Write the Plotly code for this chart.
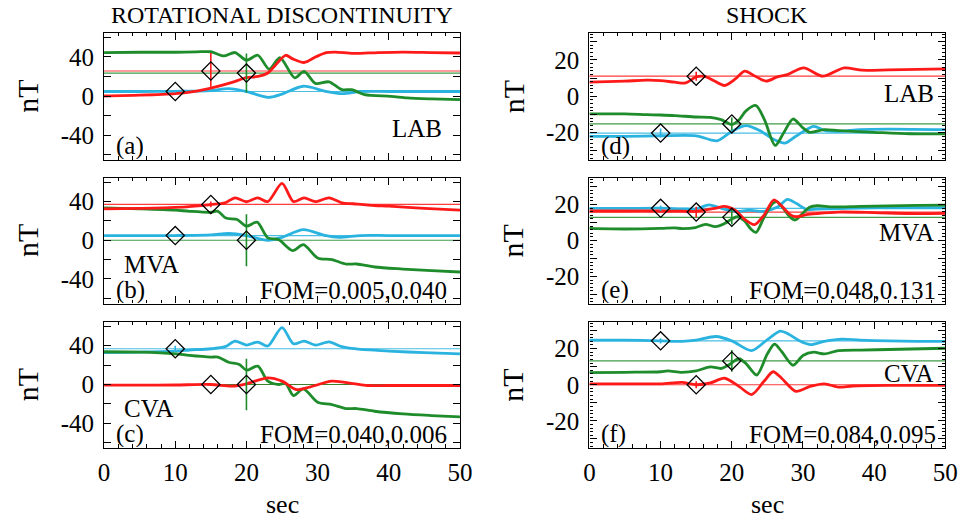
import plotly.graph_objects as go

# ---------------- data: (time [s], field [nT]) knots per component ----------------
RED = "#ff1a1a"
GRN = "#1e8c2a"
BLU = "#2bb3e0"

# (a) rotational discontinuity, LAB frame
A_RED_T = [0, 5, 10, 13, 15, 18, 20, 21.6, 23, 24, 25.5, 26.5, 28.1, 29.7, 31.2, 32.5, 35, 38.5, 42, 46, 50]
A_RED_V = [0, 0.8, 2.4, 5, 8.1, 14, 18.7, 20, 23.5, 31, 41.7, 38, 34.3, 39.9, 44.4, 45, 43.6, 44.5, 45, 44.5, 44]
A_GRN_T = [0, 5, 10, 13, 15, 16.8, 18.4, 20, 21.6, 23.2, 24.7, 26.8, 28.1, 29.7, 31.6, 33.4, 34.8, 36.6, 40.3, 42.6, 46, 50]
A_GRN_V = [44.5, 44.8, 44.8, 45.2, 45.3, 41.0, 44.5, 36.6, 41.7, 27.5, 39.3, 18.5, 25.3, 12.8, 14.5, 6.5, 6.5, 1.4, -0.3, -2.0, -3.0, -3.7]
A_BLU_T = [0, 5, 10, 15, 17.5, 20, 23, 25, 28, 31, 33.5, 36, 40, 45, 50]
A_BLU_V = [4.6, 4.6, 4.8, 5.5, 7.5, 4.6, -1.4, 2, 10, 5, 2.4, 4.6, 4.6, 4.6, 4.6]

# (b) rotational discontinuity, MVA frame
B_RED_T = [0, 5, 10, 15, 17, 18.4, 20, 21.6, 23, 25, 26.6, 28.1, 29.7, 31.6, 33.4, 35, 38, 40, 45, 50]
B_RED_V = [32.6, 33, 34, 37, 38.8, 44, 39.9, 44, 40, 58.9, 40, 44, 40, 44, 38.8, 37.8, 36, 35.4, 33, 31.2]
B_GRN_T = [0, 5, 10, 12, 15, 16, 17.1, 18.7, 20, 21.5, 23, 24.5, 26.5, 28, 30, 32, 34, 35.5, 38, 42, 46, 50]
B_GRN_V = [33.6, 32.6, 31.2, 30, 29, 30, 23, 21.5, 14.6, 18.7, 2.5, 0.7, -10.7, -4.5, -18.3, -20, -24.6, -24.6, -27.7, -29.8, -31.5, -32.9]
B_BLU_T = [0, 5, 10, 15, 17.5, 20, 23, 25, 28, 31, 33, 36, 40, 50]
B_BLU_V = [4.9, 4.9, 4.9, 5.5, 7, 4.9, 0, 3, 11, 5, 3, 4.9, 4.9, 4.9]

# (c) rotational discontinuity, CVA frame
C_RED_T = [0, 5, 10, 15, 18, 20, 23, 25, 27, 29, 32, 35, 37, 40, 50]
C_RED_V = [-0.7, -0.7, -0.5, 0, -1.7, 0.7, 6.9, 3.5, -5.2, -2.4, 3.4, 1, -1, -1, -1]
C_GRN_T = [0, 5, 10, 12, 15, 16, 17.5, 19, 20, 21.6, 23, 24.5, 25.5, 26.6, 28, 30, 32, 34, 35.5, 38, 42, 46, 50]
C_GRN_V = [33.8, 33.4, 31.7, 30, 28.3, 28.3, 23, 20.7, 14.8, 19, 3.4, 0, 1, -11.4, -4.5, -18.3, -20.7, -24.8, -24.8, -27.6, -30.3, -32, -33.4]
C_BLU_T = [0, 5, 10, 12, 15, 17, 18.4, 20, 21.6, 23, 25, 26.6, 28.1, 29.7, 31.6, 33.4, 36, 38, 40, 45, 50]
C_BLU_V = [32.8, 33.5, 34.5, 35.5, 36.9, 39, 44.8, 40.7, 43.8, 39.7, 58.6, 42, 44.8, 40.7, 44, 39, 36.2, 35.5, 34.5, 32.8, 31.7]

# (d) shock, LAB frame
D_RED_T = [0, 5, 8, 10, 12, 13.5, 15, 16.3, 17.5, 19, 20.5, 21.8, 23.3, 24.8, 26.4, 27.8, 30.1, 32.8, 35.8, 38.3, 42, 46, 50]
D_RED_V = [7.7, 8.3, 8.8, 8.6, 7.7, 7.3, 10.6, 10.8, 8.5, 5.9, 9.5, 13.8, 11, 8.3, 10.6, 11.9, 15.6, 11, 15.6, 14.3, 14.5, 14.7, 15]
D_GRN_T = [0, 5, 8, 10, 12, 15, 17, 18.5, 20, 21, 22, 23.4, 24.6, 26.1, 27.3, 28.6, 30, 31, 33, 35, 40, 45, 50]
D_GRN_V = [-9.7, -9.7, -10.1, -10.3, -10.6, -11.4, -11.6, -12.8, -15.5, -13, -8, -5.1, -13, -27, -20, -12.5, -17.4, -19.8, -18.3, -18.9, -19.8, -20.6, -20.7]
D_BLU_T = [0, 5, 10, 15, 17, 18, 20, 22, 24, 25.8, 27.5, 29, 31.5, 33, 35, 38, 42, 50]
D_BLU_V = [-22, -22, -21.7, -21.7, -23.9, -24.4, -19.3, -16.1, -19, -23.5, -25.7, -22, -16.5, -18.7, -19.3, -18.3, -18, -18.3]

# (e) shock, MVA frame
E_RED_T = [0, 5, 10, 13, 15, 17.8, 19, 20.7, 21.8, 23.2, 24.5, 25.9, 26.8, 28.2, 29.1, 30.5, 32, 35, 40, 45, 50]
E_RED_V = [16.4, 16.4, 16.4, 16.3, 16.2, 18, 18.9, 16.2, 11.7, 8.8, 14, 22.5, 20, 14.4, 13.2, 14.4, 15, 15.8, 15.5, 15, 15.1]
E_GRN_T = [0, 5, 10, 12, 13.1, 14.9, 16.3, 17.7, 19, 19.9, 20.8, 21.8, 22.7, 23.4, 24.5, 25.7, 26.3, 27.2, 28.2, 28.9, 30, 31, 32, 34.2, 38, 42, 46, 50]
E_GRN_V = [6.7, 6.4, 6.7, 7.0, 6.6, 7.2, 9.0, 7.7, 9.5, 11.7, 13.2, 10.8, 6.3, 4.5, 12.6, 20.4, 21.6, 18, 13, 11.4, 15.3, 18.6, 19.3, 18.7, 19, 19.2, 19.5, 19.6]
E_BLU_T = [0, 5, 10, 13, 15, 16.8, 19, 20.7, 22.5, 24.5, 26.5, 27.8, 29.1, 30.5, 32, 34.2, 38, 42, 50]
E_BLU_V = [17.8, 17.8, 18.0, 17.6, 17.5, 19.8, 17.3, 16.2, 16.8, 16.2, 18.7, 22.8, 20.5, 17.3, 17.5, 17.6, 18.0, 18.2, 18.2]

# (f) shock, CVA frame
F_RED_T = [0, 5, 10, 13, 15, 17, 19, 21, 22.8, 24.5, 25.8, 27, 29, 31, 33, 35, 37, 42, 50]
F_RED_V = [0.5, 0.5, 0.5, 1.3, 0, 1, 3.6, -0.9, -5.4, 1.8, 7.2, 3.6, -3.6, -0.9, 0.5, -1.3, -0.7, -0.4, -0.4]
F_GRN_T = [0, 5, 10, 11, 13, 15, 17, 18.5, 19.5, 21, 22, 23.5, 25, 26, 27, 28.6, 30, 31.5, 33, 35, 38, 42, 50]
F_GRN_V = [6.7, 6.9, 7.2, 7.7, 6.9, 7.7, 9.9, 9.0, 10.8, 14.4, 11.7, 5.4, 17.1, 22.5, 18.4, 10.8, 16.2, 18, 17.1, 18.9, 19.2, 19.5, 20.2]
F_BLU_T = [0, 5, 10, 13, 15, 17.8, 20, 22.8, 25, 26.8, 28, 29.5, 31, 33, 35.5, 38, 42, 46, 50]
F_BLU_V = [24.7, 24.7, 24.3, 24.0, 24.7, 26.7, 24.3, 18.9, 25, 29.7, 28, 24.3, 22.2, 24, 25.2, 24.7, 24.3, 24, 24]

# mean levels (horizontal lines) and uncertainty markers: [red, green, blue]
MARK_T = [15, 20, 10]
A_MEAN = [25.6, 23.5, 4.6];   A_ERR = [18.5, 20.0, 1.0]
B_MEAN = [37.1, 0.0, 4.9];    B_ERR = [3.0, 27.0, 1.0]
C_MEAN = [0.0, 0.0, 36.9];    C_ERR = [1.0, 26.5, 3.0]
D_MEAN = [11.0, -15.2, -20.2]; D_ERR = [2.5, 3.5, 2.5]
E_MEAN = [15.8, 12.9, 17.9];  E_ERR = [3.0, 4.0, 1.5]
F_MEAN = [0.0, 13.2, 24.3];   F_ERR = [2.0, 6.0, 1.5]

FRAME = ["LAB", "MVA", "CVA", "LAB", "MVA", "CVA"]
TAG = ["(a)", "(b)", "(c)", "(d)", "(e)", "(f)"]
FOM = [None, "FOM=0.005,0.040", "FOM=0.040,0.006", None, "FOM=0.048,0.131", "FOM=0.084,0.095"]
COL_TITLES = ["ROTATIONAL DISCONTINUITY", "SHOCK"]

X_RANGE = [0, 50]
Y_RANGE_RD = [-65.5, 65]
Y_RANGE_SH = [-35, 35]

# ---------------- layout geometry (pixels) ----------------
W, H = 976, 522
COL_X = [(100, 463), (595, 958)]
ROW_Y = [(32.5, 160), (177.5, 303.5), (321.5, 448)]
FONT = "Liberation Serif"


def fx(px):
    return px / W


def fy(py):
    return 1 - py / H


panels = [
    (A_RED_T, A_RED_V, A_GRN_T, A_GRN_V, A_BLU_T, A_BLU_V, A_MEAN, A_ERR),
    (B_RED_T, B_RED_V, B_GRN_T, B_GRN_V, B_BLU_T, B_BLU_V, B_MEAN, B_ERR),
    (C_RED_T, C_RED_V, C_GRN_T, C_GRN_V, C_BLU_T, C_BLU_V, C_MEAN, C_ERR),
    (D_RED_T, D_RED_V, D_GRN_T, D_GRN_V, D_BLU_T, D_BLU_V, D_MEAN, D_ERR),
    (E_RED_T, E_RED_V, E_GRN_T, E_GRN_V, E_BLU_T, E_BLU_V, E_MEAN, E_ERR),
    (F_RED_T, F_RED_V, F_GRN_T, F_GRN_V, F_BLU_T, F_BLU_V, F_MEAN, F_ERR),
]

fig = go.Figure()
layout = dict(
    width=W, height=H, margin=dict(l=0, r=0, t=0, b=0),
    paper_bgcolor="white", plot_bgcolor="white", showlegend=False,
    font=dict(family=FONT, size=25, color="black"),
)

annotations = []
for i, (rt, rv, gt, gv, bt, bv, means, errs) in enumerate(panels):
    col, row = divmod(i, 3)
    n = i + 1
    xa = "x" if n == 1 else f"x{n}"
    ya = "y" if n == 1 else f"y{n}"
    x0, x1 = COL_X[col]
    y0, y1 = ROW_Y[row]
    colors = [RED, GRN, BLU]

    # mean levels
    for m, c in zip(means, colors):
        fig.add_shape(type="line", xref=f"{xa} domain", yref=ya, x0=0, x1=1, y0=m, y1=m,
                      line=dict(color=c, width=1.2), opacity=0.85, layer="below")

    # field components
    for t, v, c in ((bt, bv, BLU), (gt, gv, GRN), (rt, rv, RED)):
        fig.add_trace(go.Scatter(x=t, y=v, mode="lines", xaxis=xa, yaxis=ya,
                                 line=dict(color=c, width=2.8, shape="spline", smoothing=0.8),
                                 hoverinfo="skip"))

    # uncertainty bars and diamonds
    for tm, m, e, c in zip(MARK_T, means, errs, colors):
        fig.add_trace(go.Scatter(x=[tm], y=[m], mode="markers", xaxis=xa, yaxis=ya,
                                 marker=dict(symbol="diamond-open", size=14, color="black",
                                             line=dict(width=1.3, color="black")),
                                 error_y=dict(type="data", array=[e], color=c, thickness=1.6, width=0),
                                 hoverinfo="skip"))

    bottom = row == 2
    layout["xaxis" if n == 1 else f"xaxis{n}"] = dict(
        domain=[fx(x0), fx(x1)], anchor=ya, range=X_RANGE,
        showline=True, linecolor="black", linewidth=1.2, mirror="allticks",
        ticks="inside", ticklen=7, tickcolor="black", tickwidth=1,
        tickmode="array", tickvals=[0, 10, 20, 30, 40, 50],
        ticktext=["0", "10", "20", "30", "40", "50"],
        showticklabels=bottom, ticklabelstandoff=2,
        minor=dict(dtick=2, ticks="inside", ticklen=3.5, tickcolor="black"),
        showgrid=False, zeroline=False,
    )
    if col == 0:
        yt = dict(tickvals=[-60, -40, -20, 0, 20, 40, 60],
                  ticktext=["", "-40", "", "0", "", "40", ""], range=Y_RANGE_RD)
    else:
        yt = dict(tickvals=[-30, -20, -10, 0, 10, 20, 30],
                  ticktext=["", "-20", "", "0", "", "20", ""], range=Y_RANGE_SH,
                  minor=dict(dtick=2, ticks="inside", ticklen=3.5, tickcolor="black"))
    layout["yaxis" if n == 1 else f"yaxis{n}"] = dict(
        domain=[fy(y1), fy(y0)], anchor=xa,
        showline=True, linecolor="black", linewidth=1.2, mirror="allticks",
        ticks="inside", ticklen=7, tickcolor="black", tickwidth=1,
        tickmode="array", ticklabelstandoff=4,
        showgrid=False, zeroline=False, **yt,
    )

    # "nT" axis label
    annotations.append(dict(text="nT", x=fx(x0 - 78), y=fy((y0 + y1) / 2), xref="paper", yref="paper",
                            textangle=-90, showarrow=False, font=dict(size=30),
                            xanchor="center", yanchor="middle"))
    # panel tag
    annotations.append(dict(text=TAG[i], x=fx(x0 + 10), y=fy(y1 - 14), xref="paper", yref="paper",
                            showarrow=False, xanchor="left", yanchor="middle", height=26))
    # frame name
    if col == 0 and row > 0:
        fpos = dict(x=fx(x0 + 18), y=fy(y1 - 40), xanchor="left")
    elif col == 0:
        fpos = dict(x=fx(x1 - 16), y=fy(128), xanchor="right")
    else:
        fpos = dict(x=fx(x1 - 10), y=fy([93, 232, 373][row]), xanchor="right")
    annotations.append(dict(text=FRAME[i], xref="paper", yref="paper", showarrow=False,
                            yanchor="middle", height=22, **fpos))
    if FOM[i]:
        fom_x = x1 - 11 if col == 0 else x1 - 7
        annotations.append(dict(text=FOM[i], x=fx(fom_x), y=fy(y1 - 14), xref="paper", yref="paper",
                                showarrow=False, xanchor="right", yanchor="middle", height=26))

for col, title in enumerate(COL_TITLES):
    x0, x1 = COL_X[col]
    annotations.append(dict(text=title, x=fx((x0 + x1) / 2), y=fy(15), xref="paper", yref="paper",
                            showarrow=False, xanchor="center", yanchor="middle", font=dict(size=24)))
    annotations.append(dict(text="sec", x=fx((x0 + x1) / 2), y=fy(504), xref="paper", yref="paper",
                            showarrow=False, xanchor="center", yanchor="middle", font=dict(size=26)))

layout["annotations"] = annotations
fig.update_layout(**layout)
fig.write_html("out.html")
